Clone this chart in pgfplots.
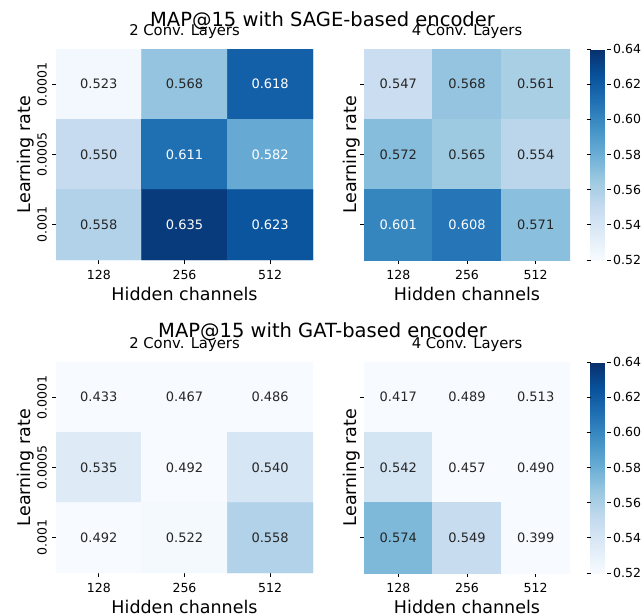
\documentclass[border=0pt]{standalone}
\usepackage{pgfplots}
\usepackage{pgfplotstable}
\usepackage{fontspec}
\setmainfont{DejaVu Sans}
\pgfplotsset{compat=1.18}

\definecolor{dtext}{rgb}{0.15,0.15,0.15}
\newcommand\tl[1]{\mbox{\fontsize{12.5bp}{15bp}\selectfont #1}}

\pgfplotsset{
  colormap={blues}{rgb255=(247,251,255) rgb255=(222,235,247) rgb255=(198,219,239) rgb255=(158,202,225) rgb255=(107,174,214) rgb255=(66,146,198) rgb255=(33,113,181) rgb255=(8,81,156) rgb255=(8,48,107)},
  hm/.style={
    scale only axis, height=211bp,
    xmin=-0.5, xmax=2.5, ymin=-0.5, ymax=2.5, y dir=reverse,
    xtick={0,1,2}, xticklabels={\tl{128},\tl{256},\tl{512}},
    ytick={0,1,2},
    axis line style={draw=none},
    tick align=outside, xtick pos=left, ytick pos=left,
    major tick length=4bp,
    tick style={line width=0.9bp, color=black},
    colormap name=blues, point meta min=0.52, point meta max=0.64,
    xticklabel style={anchor=base}, xticklabel shift=15bp,
    yticklabel style={rotate=90, anchor=base}, yticklabel shift=5.5bp,
    xlabel={Hidden channels}, ylabel={Learning rate},
    label style={font=\fontsize{17.5bp}{20bp}\selectfont},
    xlabel style={at={(axis description cs:0.5,0)}, anchor=base, yshift=-40bp},
    title style={font=\fontsize{14.8bp}{16bp}\selectfont, at={(axis description cs:0.5,1)}, anchor=base, yshift=7.3bp, inner sep=0pt},
  },
  hmleft/.style={hm, width=257bp, yticklabels={\tl{0.0001},\tl{0.0005},\tl{0.001}},
    ylabel style={at={(axis description cs:-0.0973,0.5)}, rotate=0, anchor=base}},
  hmright/.style={hm, width=206bp, yticklabels={},
    ylabel style={at={(axis description cs:-0.0354,0.5)}, rotate=0, anchor=base},
    colorbar right,
    colorbar style={
      at={(parent axis.north east)}, anchor=north west, xshift=12bp,
      scale only axis, width=16.5bp, height=211bp,
      ytick={0.52,0.54,0.56,0.58,0.60,0.62,0.64},
      yticklabels={\tl{0.52},\tl{0.54},\tl{0.56},\tl{0.58},\tl{0.60},\tl{0.62},\tl{0.64}},
      major tick length=4bp, tick align=outside,
      tick style={line width=0.9bp, color=black},
      yticklabel style={anchor=west, inner xsep=2bp},
      axis line style={draw=none},
    },
  },
  cells/.style={matrix plot*, mesh/cols=3, point meta=explicit},
  darklab/.style={only marks, mark=none, nodes near coords, point meta=explicit symbolic,
    nodes near coords style={anchor=center, text=dtext, font=\fontsize{13bp}{15bp}\selectfont}},
  whitelab/.style={darklab, nodes near coords style={text=white}},
}

% columns: x (hidden channels index), y (learning-rate index), c (MAP@15), w (1 = white label)
\pgfplotstableread{
x y c w
0 0 0.523 0
1 0 0.568 0
2 0 0.618 1
0 1 0.550 0
1 1 0.611 1
2 1 0.582 1
0 2 0.558 0
1 2 0.635 1
2 2 0.623 1
}\sagetwo
\pgfplotstableread{
x y c w
0 0 0.547 0
1 0 0.568 0
2 0 0.561 0
0 1 0.572 0
1 1 0.565 0
2 1 0.554 0
0 2 0.601 1
1 2 0.608 1
2 2 0.571 0
}\sagefour
\pgfplotstableread{
x y c w
0 0 0.433 0
1 0 0.467 0
2 0 0.486 0
0 1 0.535 0
1 1 0.492 0
2 1 0.540 0
0 2 0.492 0
1 2 0.522 0
2 2 0.558 0
}\gattwo
\pgfplotstableread{
x y c w
0 0 0.417 0
1 0 0.489 0
2 0 0.513 0
0 1 0.542 0
1 1 0.457 0
2 1 0.490 0
0 2 0.574 0
1 2 0.549 0
2 2 0.399 0
}\gatfour

\newcommand\heat[1]{%
  \addplot[cells] table[x=x, y=y, meta=c] {#1};
  \addplot[darklab] table[x=x, y=y, meta=c, restrict expr to domain={\thisrow{w}}{-0.5:0.5}] {#1};
  \addplot[whitelab] table[x=x, y=y, meta=c, restrict expr to domain={\thisrow{w}}{0.5:1.5}] {#1};
}

\begin{document}
\begin{tikzpicture}
\useasboundingbox (0,0) rectangle (644bp,-616bp);

\node[anchor=base, font=\fontsize{19.5bp}{22bp}\selectfont, inner sep=0pt] at (322.5bp,-26bp) {MAP@15 with SAGE-based encoder};
\node[anchor=base, font=\fontsize{19.5bp}{22bp}\selectfont, inner sep=0pt] at (322.5bp,-337.3bp) {MAP@15 with GAT-based encoder};

\begin{axis}[hmleft, at={(56bp,-49bp)}, anchor=north west, title={2 Conv. Layers}]
\heat{\sagetwo}
\end{axis}

\begin{axis}[hmright, at={(364bp,-49bp)}, anchor=north west, title={4 Conv. Layers}]
\heat{\sagefour}
\end{axis}

\begin{axis}[hmleft, at={(56bp,-362bp)}, anchor=north west, title={2 Conv. Layers}]
\heat{\gattwo}
\end{axis}

\begin{axis}[hmright, at={(364bp,-362bp)}, anchor=north west, title={4 Conv. Layers}]
\heat{\gatfour}
\end{axis}
\end{tikzpicture}
\end{document}
